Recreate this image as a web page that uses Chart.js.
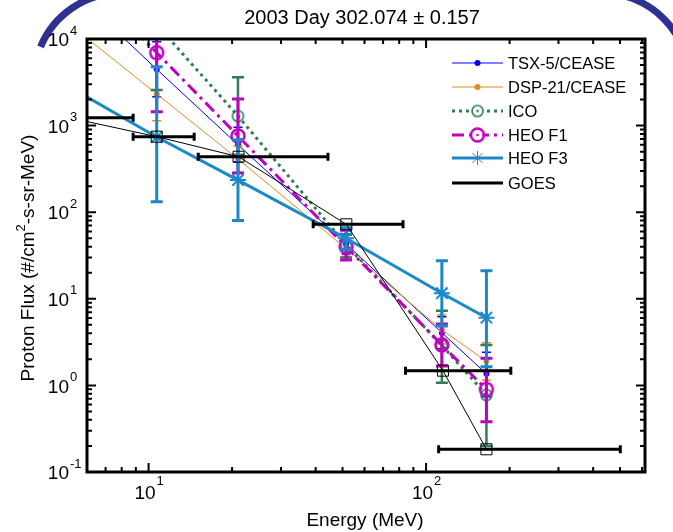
<!DOCTYPE html>
<html>
<head>
<meta charset="utf-8">
<script src="https://cdn.jsdelivr.net/npm/chart.js@4.4.1/dist/chart.umd.min.js"></script>
<style>
  html, body { margin: 0; padding: 0; background: #fff; }
  canvas { display: block; }
</style>
</head>
<body>
<canvas id="fluxChart" width="673" height="532"></canvas>
<script>
// ---- data ----
const ENERGY = [5, 10.7, 21, 51.5, 114, 165];   // MeV, shared by the satellite series

const TSX_FLUX = [44700, 4470, 600, 43, 4.06, 1.36];
const TSX_LOW  = [30000, 2160, 383, 33, 2.65, 0.74];
const TSX_HIGH = [60000, 9300, 955, 56, 6.2, 2.41];

const DSP_FLUX = [16300, 2320, 411, 38, 4.37, 1.9];
const DSP_LOW  = [10000, 1140, 290, 31, 3.0, 1.15];
const DSP_HIGH = [25000, 4700, 580, 48, 6.5, 3.1];

const ICO_FLUX = [220000, 14700, 1290, 42, 2.9, 0.776];
const ICO_LOW  = [100000, 2570, 460, 30, 1.07, 0.2];
const ICO_HIGH = [400000, 84000, 3610, 55, 7.3, 2.93];

const HEO1_FLUX = [81000, 6950, 760, 40, 2.93, 0.9];
const HEO1_LOW  = [40000, 1445, 284, 28, 1.68, 0.38];
const HEO1_HIGH = [150000, 33000, 2030, 62, 5.1, 2.06];

const HEO3_FLUX = [3000, 738, 235, 50, 11.6, 6.05];
const HEO3_LOW  = [1000, 132, 80, 37, 4.85, 1.64];
const HEO3_HIGH = [9000, 4786, 682, 66, 27.5, 21.1];

const GOES_ENERGY = [5.2, 10.7, 21.1, 51.6, 115, 165];
const GOES_E_LOW  = [4.0, 8.8, 15.1, 39.2, 84.3, 111];
const GOES_E_HIGH = [8.8, 14.6, 44.3, 82.6, 202, 501];
const GOES_FLUX   = [1230, 745, 437, 72.5, 1.48, 0.183];

const Y_MAJOR = [0.1, 1, 10, 100, 1000, 10000];
const Y_EXP   = ['-1', '0', '1', '2', '3', '4'];
const X_MAJOR = [10, 100];
const X_EXP   = ['1', '2'];

const SERIES_NAMES = ['TSX-5/CEASE', 'DSP-21/CEASE', 'ICO', 'HEO F1', 'HEO F3', 'GOES'];

// ---- colours / markers ----
const C_TSX = '#0000ff';
const C_DSP = '#e58a1f';
const C_ICO = '#2e8050';
const C_HEO1 = '#c000c0';
const C_HEO3 = '#1a88c9';
const C_GOES = '#000000';
const FONT = '"Liberation Sans", Arial, Helvetica, sans-serif';

function ringMarker(color, r, lw) {
    const size = Math.ceil(2 * r + lw + 2);
    const c = document.createElement('canvas');
    c.width = c.height = size;
    const g = c.getContext('2d');
    g.strokeStyle = color;
    g.lineWidth = lw;
    g.beginPath();
    g.arc(size / 2, size / 2, r, 0, Math.PI * 2);
    g.stroke();
    g.fillStyle = color;
    g.beginPath();
    g.arc(size / 2, size / 2, 1.3, 0, Math.PI * 2);
    g.fill();
    return c;
}
const icoMark = ringMarker(C_ICO, 5.5, 1.6);
const heo1Mark = ringMarker(C_HEO1, 6.5, 2.4);

function pts(xs, ys) {
    return xs.map((x, i) => ({ x: x, y: ys[i] }));
}

const errInfo = [
    { low: TSX_LOW, high: TSX_HIGH, color: C_TSX, width: 1.5, cap: 4.5 },
    { low: DSP_LOW, high: DSP_HIGH, color: C_DSP, width: 1.5, cap: 4.5 },
    { low: ICO_LOW, high: ICO_HIGH, color: C_ICO, width: 2.5, cap: 6 },
    { low: HEO1_LOW, high: HEO1_HIGH, color: C_HEO1, width: 3, cap: 6 },
    { low: HEO3_LOW, high: HEO3_HIGH, color: C_HEO3, width: 3, cap: 6 },
    null
];

const datasets = [
    {
        label: SERIES_NAMES[0], data: pts(ENERGY, TSX_FLUX), order: 6,
        borderColor: C_TSX, borderWidth: 1, backgroundColor: C_TSX,
        pointStyle: 'circle', pointRadius: 3, pointBorderWidth: 0
    },
    {
        label: SERIES_NAMES[1], data: pts(ENERGY, DSP_FLUX), order: 5,
        borderColor: C_DSP, borderWidth: 1, backgroundColor: C_DSP,
        pointStyle: 'circle', pointRadius: 3, pointBorderWidth: 0
    },
    {
        label: SERIES_NAMES[2], data: pts(ENERGY, ICO_FLUX), order: 4,
        borderColor: C_ICO, borderWidth: 3, borderDash: [3, 4],
        pointStyle: icoMark, pointRadius: 6
    },
    {
        label: SERIES_NAMES[3], data: pts(ENERGY, HEO1_FLUX), order: 3,
        borderColor: C_HEO1, borderWidth: 3, borderDash: [12, 5, 3, 5],
        pointStyle: heo1Mark, pointRadius: 7
    },
    {
        label: SERIES_NAMES[4], data: pts(ENERGY, HEO3_FLUX), order: 2,
        borderColor: C_HEO3, borderWidth: 3, backgroundColor: 'rgba(0,0,0,0)',
        pointStyle: 'star', pointRadius: 8, pointBorderWidth: 2, pointBorderColor: C_HEO3
    },
    {
        label: SERIES_NAMES[5], data: pts(GOES_ENERGY, GOES_FLUX), order: 1,
        borderColor: C_GOES, borderWidth: 1, backgroundColor: 'rgba(0,0,0,0)',
        pointStyle: 'rect', pointRadius: 7.8, pointBorderWidth: 1, pointBorderColor: C_GOES
    }
];
datasets.forEach(d => { d.showLine = true; d.fill = false; d.tension = 0; d.clip = 0; });

// ---- drawing helpers ----
const plotDecor = {
    id: 'plotDecor',
    beforeDraw(chart) {
        const ctx = chart.ctx;
        ctx.save();
        ctx.fillStyle = '#fff';
        ctx.fillRect(0, 0, chart.width, chart.height);
        // slide frame corners
        ctx.strokeStyle = '#2e3192';
        ctx.lineWidth = 7;
        ctx.beginPath();
        ctx.arc(121, 80, 87, Math.PI + 0.39, Math.PI * 1.5);
        ctx.stroke();
        ctx.beginPath();
        ctx.arc(602, 80, 87, Math.PI * 1.5, Math.PI * 2);
        ctx.stroke();
        ctx.restore();
    },
    afterDatasetDraw(chart, args) {
        const ctx = chart.ctx;
        const area = chart.chartArea;
        const xs = chart.scales.x, ys = chart.scales.y;
        ctx.save();
        ctx.beginPath();
        ctx.rect(area.left, area.top, area.right - area.left, area.bottom - area.top);
        ctx.clip();
        const info = errInfo[args.index];
        if (info) {
            ctx.strokeStyle = info.color;
            ctx.lineWidth = info.width;
            ENERGY.forEach((e, i) => {
                const x = xs.getPixelForValue(e);
                const y1 = ys.getPixelForValue(info.low[i]);
                const y2 = ys.getPixelForValue(info.high[i]);
                ctx.beginPath();
                ctx.moveTo(x, y1); ctx.lineTo(x, y2);
                ctx.moveTo(x - info.cap, y1); ctx.lineTo(x + info.cap, y1);
                ctx.moveTo(x - info.cap, y2); ctx.lineTo(x + info.cap, y2);
                ctx.stroke();
            });
        } else {
            ctx.strokeStyle = C_GOES;
            ctx.lineWidth = 3;
            GOES_ENERGY.forEach((e, i) => {
                const y = ys.getPixelForValue(GOES_FLUX[i]);
                const x1 = xs.getPixelForValue(GOES_E_LOW[i]);
                const x2 = xs.getPixelForValue(GOES_E_HIGH[i]);
                ctx.beginPath();
                ctx.moveTo(x1, y); ctx.lineTo(x2, y);
                ctx.moveTo(x1, y - 4); ctx.lineTo(x1, y + 4);
                ctx.moveTo(x2, y - 4); ctx.lineTo(x2, y + 4);
                ctx.stroke();
            });
        }
        ctx.restore();
    },
    afterDraw(chart) {
        const ctx = chart.ctx;
        const a = chart.chartArea;
        const xs = chart.scales.x, ys = chart.scales.y;
        ctx.save();

        // ticks (inward, all four sides)
        ctx.strokeStyle = '#000';
        ctx.lineWidth = 2;
        const tick = (v, len, axis) => {
            ctx.beginPath();
            if (axis === 'x') {
                const p = xs.getPixelForValue(v);
                ctx.moveTo(p, a.bottom); ctx.lineTo(p, a.bottom - len);
                ctx.moveTo(p, a.top); ctx.lineTo(p, a.top + len);
            } else {
                const p = ys.getPixelForValue(v);
                ctx.moveTo(a.left, p); ctx.lineTo(a.left + len, p);
                ctx.moveTo(a.right, p); ctx.lineTo(a.right - len, p);
            }
            ctx.stroke();
        };
        for (let d = -1; d <= 3; d++) {
            for (let k = 2; k <= 9; k++) tick(k * Math.pow(10, d), 5, 'y');
        }
        Y_MAJOR.forEach(v => tick(v, 9, 'y'));
        for (let d = 0; d <= 2; d++) {
            for (let k = 2; k <= 9; k++) {
                const v = k * Math.pow(10, d);
                if (v > xs.min && v < xs.max) tick(v, 5, 'x');
            }
        }
        X_MAJOR.forEach(v => tick(v, 9, 'x'));

        // axes box
        ctx.lineWidth = 3;
        ctx.strokeRect(a.left, a.top, a.right - a.left, a.bottom - a.top);

        // tick labels
        ctx.fillStyle = '#000';
        ctx.textBaseline = 'middle';
        Y_MAJOR.forEach((v, i) => {
            const p = ys.getPixelForValue(v);
            ctx.font = '19px ' + FONT;
            ctx.textAlign = 'right';
            ctx.fillText('10', 69, p + 2);
            ctx.font = '13px ' + FONT;
            ctx.textAlign = 'left';
            ctx.fillText(Y_EXP[i], 70, p - 8);
        });
        X_MAJOR.forEach((v, i) => {
            const p = xs.getPixelForValue(v);
            ctx.font = '19px ' + FONT;
            ctx.textAlign = 'right';
            ctx.fillText('10', p + 7, 494);
            ctx.font = '13px ' + FONT;
            ctx.textAlign = 'left';
            ctx.fillText(X_EXP[i], p + 8, 481);
        });

        // titles
        ctx.font = '20px ' + FONT;
        ctx.textAlign = 'center';
        ctx.fillText('2003 Day 302.074 \u00b1 0.157', 362, 18);
        ctx.font = '19px ' + FONT;
        ctx.fillText('Energy (MeV)', 365, 521);

        // y title, rotated, with superscript 2
        ctx.save();
        ctx.translate(29, 258);
        ctx.rotate(-Math.PI / 2);
        ctx.textAlign = 'left';
        const s1 = 'Proton Flux (#/cm', s2 = '2', s3 = '-s-sr-MeV)';
        ctx.font = '19px ' + FONT;
        const w1 = ctx.measureText(s1).width, w3 = ctx.measureText(s3).width;
        ctx.font = '13px ' + FONT;
        const w2 = ctx.measureText(s2).width;
        const x0 = -(w1 + w2 + w3) / 2;
        ctx.font = '19px ' + FONT;
        ctx.fillText(s1, x0, 0);
        ctx.fillText(s3, x0 + w1 + w2, 0);
        ctx.font = '13px ' + FONT;
        ctx.fillText(s2, x0 + w1, -8);
        ctx.restore();

        // legend
        const rows = [63, 87, 111, 135, 158, 183];
        const lx1 = 452, lx2 = 503, lm = 477.5;
        ctx.font = '16.5px ' + FONT;
        ctx.textAlign = 'left';
        ctx.textBaseline = 'middle';
        const legendStyle = [
            { color: C_TSX, width: 1, dash: [] },
            { color: C_DSP, width: 1, dash: [] },
            { color: C_ICO, width: 3, dash: [3, 4] },
            { color: C_HEO1, width: 3, dash: [12, 5, 3, 5] },
            { color: C_HEO3, width: 3, dash: [] },
            { color: C_GOES, width: 3, dash: [] }
        ];
        legendStyle.forEach((st, i) => {
            const y = rows[i];
            ctx.strokeStyle = st.color;
            ctx.lineWidth = st.width;
            ctx.setLineDash(st.dash);
            ctx.beginPath();
            ctx.moveTo(lx1, y); ctx.lineTo(lx2, y);
            ctx.stroke();
            ctx.setLineDash([]);
            if (i < 2) {
                ctx.fillStyle = st.color;
                ctx.beginPath();
                ctx.arc(lm, y, 3, 0, Math.PI * 2);
                ctx.fill();
            } else if (i === 2 || i === 3) {
                const m = i === 2 ? icoMark : heo1Mark;
                ctx.fillStyle = '#fff';
                ctx.beginPath();
                ctx.arc(lm, y, 5, 0, Math.PI * 2);
                ctx.fill();
                ctx.drawImage(m, lm - m.width / 2, y - m.height / 2);
            } else if (i === 4) {
                ctx.lineWidth = 1;
                ctx.beginPath();
                for (let k = 0; k < 4; k++) {
                    const ang = k * Math.PI / 4;
                    ctx.moveTo(lm - 7 * Math.cos(ang), y - 7 * Math.sin(ang));
                    ctx.lineTo(lm + 7 * Math.cos(ang), y + 7 * Math.sin(ang));
                }
                ctx.stroke();
            }
            ctx.fillStyle = '#000';
            ctx.fillText(SERIES_NAMES[i], 508, y + 1);
        });

        ctx.restore();
    }
};

new Chart(document.getElementById('fluxChart').getContext('2d'), {
    type: 'scatter',
    data: { datasets: datasets },
    options: {
        responsive: false,
        animation: false,
        devicePixelRatio: 1,
        layout: { padding: { left: 87, right: 28, top: 39, bottom: 60 } },
        plugins: {
            legend: { display: false },
            tooltip: { enabled: false },
            title: { display: false }
        },
        scales: {
            x: {
                type: 'logarithmic', min: 6, max: 615,
                grid: { display: false, drawTicks: false },
                border: { display: false },
                ticks: { display: false },
                afterFit: s => { s.height = 0; }
            },
            y: {
                type: 'logarithmic', min: 0.1, max: 10000,
                grid: { display: false, drawTicks: false },
                border: { display: false },
                ticks: { display: false },
                afterFit: s => { s.width = 0; }
            }
        }
    },
    plugins: [plotDecor]
});
</script>
</body>
</html>
